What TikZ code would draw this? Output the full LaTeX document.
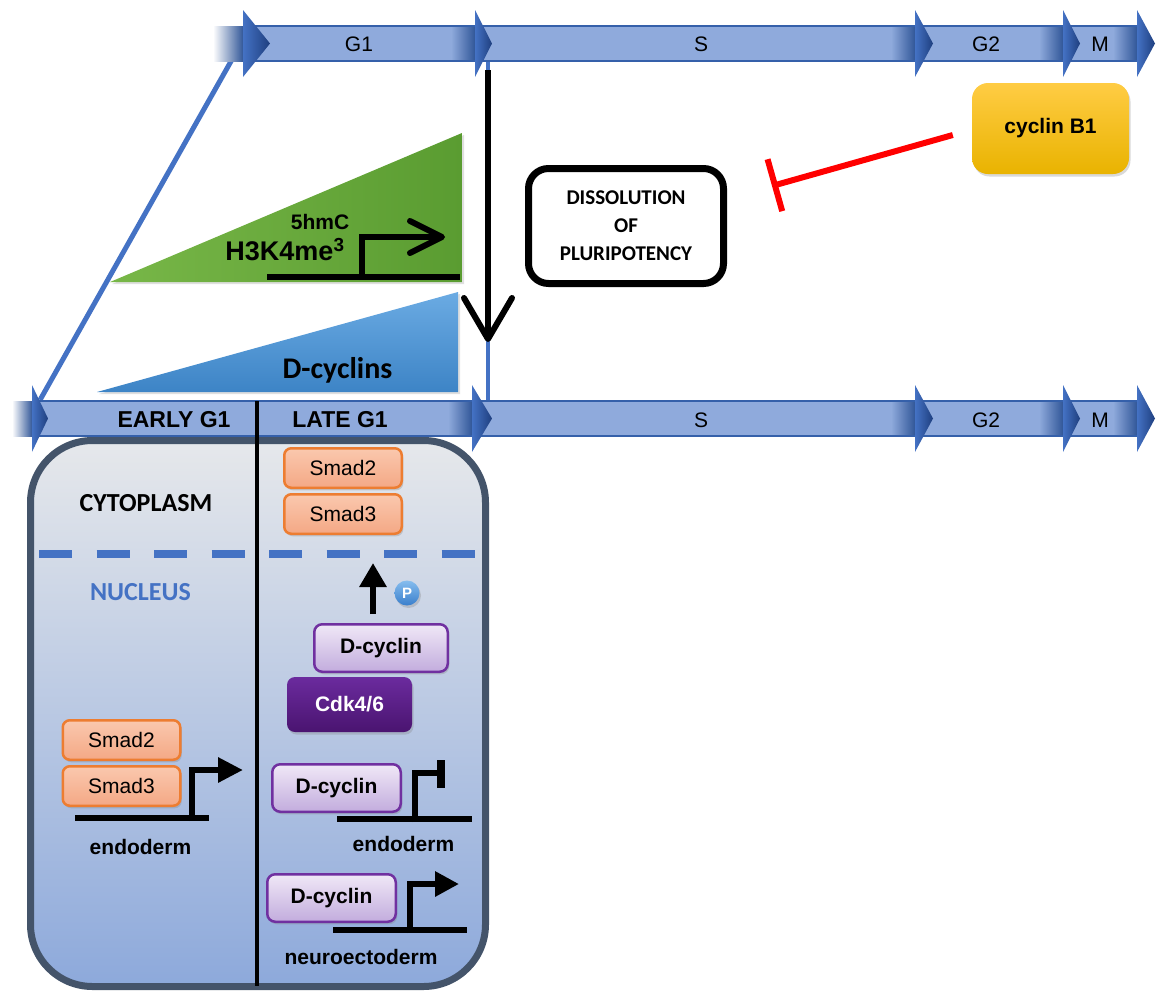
\documentclass[tikz,border=0pt]{standalone}
\usepackage{fontspec}
\setmainfont{Liberation Sans}
\newfontfamily\calfont{Carlito}
\usetikzlibrary{shadows,arrows.meta,calc}
\definecolor{bandL}{HTML}{8FAADC}
\definecolor{bandD}{HTML}{2F5597}
\definecolor{headL}{HTML}{4472C4}
\definecolor{headD}{HTML}{1F3F7F}
\definecolor{edgeB}{HTML}{3560AA}
\definecolor{lineB}{HTML}{4472C4}
\definecolor{cellE}{HTML}{44546A}
\definecolor{cellT}{HTML}{E6E8EB}
\definecolor{cellB}{HTML}{8DA9DB}
\definecolor{smadE}{HTML}{ED7D31}
\definecolor{smadT}{HTML}{FAC8AE}
\definecolor{smadB}{HTML}{F4A885}
\definecolor{dcE}{HTML}{7030A0}
\definecolor{dcT}{HTML}{F0E8F7}
\definecolor{dcB}{HTML}{C2ACDD}
\definecolor{cdkT}{HTML}{6B2B9E}
\definecolor{cdkB}{HTML}{4A1470}
\definecolor{cybT}{HTML}{FFCC44}
\definecolor{cybB}{HTML}{E9B300}
\definecolor{grnL}{HTML}{78B748}
\definecolor{grnD}{HTML}{5A9C31}
\definecolor{bluT}{HTML}{6BABE3}
\definecolor{bluB}{HTML}{3D84C6}
\definecolor{PblueT}{HTML}{86BDEE}
\definecolor{PblueB}{HTML}{3A7FCC}
\newcommand\fsz[1]{\fontsize{#1}{#1}\selectfont}
% band piece: start, headbase, ycenter
\newcommand\bandpiece[3]{%
  \fill[bandL] (#1,#3-17.5) rectangle (#2,#3+17.5);
  \shade[left color=bandL,right color=bandD] (#2-24,#3-17.5) rectangle (#2+0.5,#3+17.5);
  \draw[edgeB,line width=1.5pt] (#1,#3-17.5) -- (#2,#3-17.5) (#1,#3+17.5) -- (#2,#3+17.5);
}
% head: base, tip, ycenter
\newcommand\bandhead[3]{%
  \shade[left color=headL,right color=headD] (#1,#3-33.5) -- (#2,#3) -- (#1,#3+33.5) -- cycle;
}
\tikzset{
  shd/.style={drop shadow={opacity=0.3,shadow xshift=1.5pt,shadow yshift=-2.5pt}},
  smad/.style={shd,draw=smadE,line width=2.5pt,rounded corners=7pt,top color=smadT,bottom color=smadB,
    minimum width=117.5pt,minimum height=39.5pt,inner sep=0pt,font=\fsz{21}},
  dcyc/.style={shd,draw=dcE,line width=2.5pt,rounded corners=8pt,top color=dcT,bottom color=dcB,
    minimum height=47.5pt,inner sep=0pt,font=\bfseries\fsz{21}},
  cdk/.style={shd,rounded corners=8pt,top color=cdkT,bottom color=cdkB,text=white,
    minimum width=125pt,minimum height=55pt,inner sep=0pt,font=\bfseries\fsz{21}},
  cycb/.style={shd,rounded corners=16pt,top color=cybT,bottom color=cybB,
    minimum width=157pt,minimum height=91pt,inner sep=0pt,font=\bfseries\fsz{21}},
  gene/.style={line width=6pt},
  phase/.style={font=\fsz{21}},
  phaseb/.style={font=\bfseries\fsz{23}},
  calb/.style={font=\calfont\bfseries\fsz{26}},
}
\begin{document}
\begin{tikzpicture}[x=1pt,y=-1pt]
\useasboundingbox (0,0) rectangle (1157,994);

% connecting lines behind the bars
\draw[lineB,line width=5pt] (40,400) -- (243,40);
\draw[lineB,line width=4pt] (488,60) -- (488,402);

% triangles
\path[drop shadow={opacity=0.25,shadow xshift=2pt,shadow yshift=-2pt},left color=grnL,right color=grnD]
  (110,282) -- (462,133) -- (462,282) -- cycle;
\path[drop shadow={opacity=0.25,shadow xshift=2pt,shadow yshift=-2pt},top color=bluT,bottom color=bluB]
  (97,392) -- (458,292) -- (458,392) -- cycle;
\node[font=\bfseries\fsz{21}] (hmc) at (320,222) {5hmC};
\node[font=\bfseries\fsz{27}] (h3k) at (285,250) {H3K4me\textsuperscript{3}};
\node[font=\calfont\bfseries\fsz{30},anchor=base] (dcycs) at (337.5,378) {D-cyclins};
% promoter in green triangle
\draw[gene] (267,277) -- (460,277);
\draw[gene] (362,280) |- (440,237);
\draw[line width=6pt,line cap=round,line join=round] (410,221) -- (442,237) -- (410,253);

% black arrow down
\coordinate (dnA) at (488,70);
\coordinate (dnB) at (488,339);
\draw[line width=6pt] (dnA) -- (dnB);
\draw[line width=6pt,line cap=round,line join=round] (464,298) -- (dnB) -- (512,298);

% dissolution box
\node[draw,line width=7pt,rounded corners=20pt,minimum width=195pt,minimum height=115pt,
  align=center,inner sep=0pt,font=\calfont\bfseries\fontsize{21}{28}\selectfont] (diss) at (626,226)
  {DISSOLUTION\\OF\\PLURIPOTENCY};

% cyclin B1 and inhibition
\node[cycb] (cycB) at (1050.5,128.5) {cyclin B1};
\coordinate (inhS) at ($(cycB.west)+(-19,6.5)$);
\coordinate (inhE) at ($(diss.east)+(45,-40)$);
\draw[red,line width=6pt,-{Bar[width=54pt]}] (inhS) -- (inhE);

% cell
\path[draw=cellE,line width=7pt,top color=cellT,bottom color=cellB,rounded corners=62pt]
  (30.5,440.5) rectangle (485.5,986.5);

% top bar
\shade[left color=white,right color=bandD] (213,26) rectangle (243.5,61);
\bandpiece{243}{475}{43.5}
\bandpiece{475}{915}{43.5}
\bandpiece{915}{1063}{43.5}
\bandpiece{1063}{1137}{43.5}
\bandhead{243}{270}{43.5}
\bandhead{475}{492}{43.5}
\bandhead{915}{933}{43.5}
\bandhead{1063}{1080}{43.5}
\bandhead{1137}{1155}{43.5}
\node[phase] (tG1) at (359,44) {G1};
\node[phase] (tS) at (701,44) {S};
\node[phase] (tG2) at (986,44) {G2};
\node[phase] (tM) at (1100,44) {M};

% middle bar
\shade[left color=white,right color=bandD] (12,401) rectangle (32.5,436);
\bandpiece{32}{472}{418.5}
\bandpiece{472}{915}{418.5}
\bandpiece{915}{1063}{418.5}
\bandpiece{1063}{1137}{418.5}
\bandhead{32}{48}{418.5}
\bandhead{472}{492}{418.5}
\bandhead{915}{933}{418.5}
\bandhead{1063}{1080}{418.5}
\bandhead{1137}{1155}{418.5}
\node[phaseb] (early) at (174,420) {EARLY G1};
\node[phaseb] (late) at (340,420) {LATE G1};
\node[phase] (mS) at (701,420) {S};
\node[phase] (mG2) at (986,420) {G2};
\node[phase] (mM) at (1100,420) {M};

% divider
\draw[line width=4pt] (257,401) -- (257,986);

% cytoplasm / nucleus
\draw[lineB,line width=8pt,dash pattern=on 33pt off 24.5pt] (39,554) -- (475,554);
\node[calb] (cyto) at (146,503) {CYTOPLASM};
\node[calb,text=lineB] (nuc) at (140.5,592.5) {NUCLEUS};

% late G1 top
\node[smad] (rs2) at (343,468) {Smad2};
\node[smad] (rs3) at (343,514) {Smad3};
\coordinate (upA) at (373,614);
\coordinate (upB) at (373,563);
\draw[line width=6.5pt,-{Triangle[length=24pt,width=26pt]}] (upA) -- (upB);
\node[circle,shd,top color=PblueT,bottom color=PblueB,minimum size=25pt,inner sep=0pt,text=white,font=\bfseries\fsz{15}] (P) at (407,593) {P};
\node[dcyc,minimum width=133.5pt] (dc1) at (381,648) {D-cyclin};
\node[cdk] (cdk) at (349.5,704.5) {Cdk4/6};

% early G1 promoter
\node[smad] (ls2) at (121.5,740) {Smad2};
\node[smad] (ls3) at (121.5,786) {Smad3};
\draw[gene] (75,818) -- (209,818);
\draw[gene,-{Triangle[length=25pt,width=24pt]}] (192,821) |- (243,770);
\node[font=\bfseries\fsz{21}] (endo1) at (140.5,847) {endoderm};

% late G1 endoderm (blocked)
\node[dcyc,minimum width=128.5pt] (dc2) at (336.5,788) {D-cyclin};
\draw[gene] (337,819) -- (472,819);
\draw[gene] (415,822) |- (441,773);
\draw[line width=8pt] (441,760) -- (441,788);
\node[font=\bfseries\fsz{21}] (endo2) at (403.5,844) {endoderm};

% late G1 neuroectoderm
\node[dcyc,minimum width=128.5pt] (dc3) at (331.5,898) {D-cyclin};
\draw[gene] (333,930) -- (467,930);
\draw[gene,-{Triangle[length=24pt,width=24pt]}] (410,933) |- (459,884);
\node[font=\bfseries\fsz{21}] (neuro) at (361,957) {neuroectoderm};
\end{tikzpicture}
\end{document}
